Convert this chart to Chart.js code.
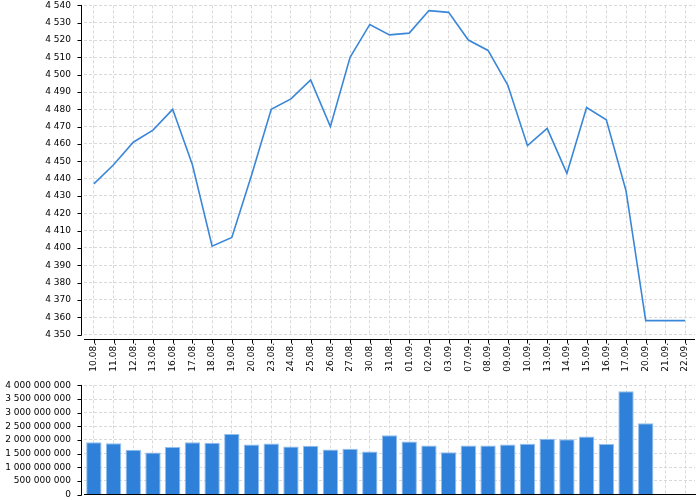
<!DOCTYPE html>
<html>
<head>
<meta charset="utf-8">
<script src="https://cdn.jsdelivr.net/npm/chart.js@4/dist/chart.umd.min.js"></script>
<style>
    html, body { margin: 0; padding: 0; background: #fff; }
    #wrap { position: relative; width: 700px; height: 500px; }
    #priceChart { position: absolute; left: 0; top: 0; }
    #volumeChart { position: absolute; left: 0; top: 380px; }
</style>
</head>
<body>
<div id="wrap">
    <canvas id="priceChart" width="700" height="380"></canvas>
    <canvas id="volumeChart" width="700" height="120"></canvas>
</div>
<script>
const dates = ['10.08.', '11.08.', '12.08.', '13.08.', '16.08.', '17.08.', '18.08.', '19.08.', '20.08.', '23.08.',
    '24.08.', '25.08.', '26.08.', '27.08.', '30.08.', '31.08.', '01.09.', '02.09.', '03.09.', '07.09.',
    '08.09.', '09.09.', '10.09.', '13.09.', '14.09.', '15.09.', '16.09.', '17.09.', '20.09.', '21.09.', '22.09.'];

const closeValues = [4437, 4448, 4461, 4468, 4480, 4448, 4401, 4406, 4442, 4480,
    4486, 4497, 4470, 4510, 4529, 4523, 4524, 4537, 4536, 4520,
    4514, 4494, 4459, 4469, 4443, 4481, 4474, 4433, 4358, 4358, 4358];

// in millions
const volumeMillions = [1920, 1880, 1640, 1540, 1740, 1920, 1900, 2220, 1830, 1870,
    1760, 1790, 1650, 1680, 1580, 2170, 1940, 1800, 1550, 1800,
    1800, 1830, 1860, 2040, 2030, 2130, 1850, 3790, 2610, null, null];

const priceTicks = { min: 4350, max: 4540, step: 10 };
const volumeTicks = { min: 0, max: 4000000000, step: 500000000 };

const volumes = volumeMillions.map(v => v === null ? null : v * 1000000);

const FONT = { family: "'DejaVu Sans', sans-serif", size: 9 };
const GRID_COLOR = '#d9d9d9';
const NONE = 'rgba(0,0,0,0)';

function spaced(v) {
    return Math.round(v).toString().replace(/\B(?=(\d{3})+(?!\d))/g, ' ');
}

// axis lines sit a few pixels away from the plot, as in the original
const offsetAxes = {
    id: 'offsetAxes',
    afterDraw(chart, args, opts) {
        const ctx = chart.ctx;
        const area = chart.chartArea;
        const x = chart.scales.x;
        const y = chart.scales.y;
        ctx.save();
        ctx.strokeStyle = '#000';
        ctx.lineWidth = 1;
        ctx.beginPath();
        const yx = Math.round(area.left - opts.yGap) + 0.5;
        ctx.moveTo(yx, area.top - 0.5);
        ctx.lineTo(yx, area.bottom + 1);
        y.ticks.forEach(t => {
            const p = Math.round(y.getPixelForValue(t.value)) + 0.5;
            ctx.moveTo(yx - 4, p);
            ctx.lineTo(yx, p);
        });
        if (opts.xGap !== undefined) {
            const xy = Math.round(area.bottom + opts.xGap) + 0.5;
            ctx.moveTo(area.left, xy);
            ctx.lineTo(area.right, xy);
            x.ticks.forEach((t, i) => {
                const p = Math.round(x.getPixelForTick(i)) + 0.5;
                ctx.moveTo(p, xy);
                ctx.lineTo(p, xy + 4);
            });
        }
        ctx.stroke();
        ctx.restore();
    }
};

Chart.defaults.font.family = FONT.family;
Chart.defaults.font.size = FONT.size;
Chart.defaults.color = '#000';

new Chart(document.getElementById('priceChart').getContext('2d'), {
    type: 'line',
    data: {
        labels: dates,
        datasets: [{
            data: closeValues,
            borderColor: '#3a87d9',
            borderWidth: 1.6,
            pointRadius: 0,
            tension: 0,
            fill: false
        }]
    },
    options: {
        responsive: false,
        animation: false,
        devicePixelRatio: 1,
        layout: { padding: { top: 5, right: 5, bottom: 0, left: 0 } },
        plugins: {
            legend: { display: false },
            tooltip: { enabled: false },
            offsetAxes: { yGap: 3.3, xGap: 4.5 }
        },
        scales: {
            x: {
                offset: true,
                afterFit: (scale) => { scale.height = 45.5; },
                grid: { color: GRID_COLOR, offset: false, tickLength: 8.5, tickColor: NONE },
                border: { display: false, dash: [3, 2] },
                ticks: { autoSkip: false, minRotation: 90, maxRotation: 90, padding: 0, font: FONT }
            },
            y: {
                min: priceTicks.min,
                max: priceTicks.max,
                afterFit: (scale) => { scale.width = 84; },
                grid: { color: GRID_COLOR, tickLength: 13, tickColor: NONE },
                border: { display: false, dash: [3, 2] },
                ticks: { stepSize: priceTicks.step, autoSkip: false, padding: 0, font: FONT, callback: (v) => spaced(v) }
            }
        }
    },
    plugins: [offsetAxes]
});

new Chart(document.getElementById('volumeChart').getContext('2d'), {
    type: 'bar',
    data: {
        labels: dates,
        datasets: [{
            data: volumes,
            backgroundColor: '#2f80d8',
            borderColor: '#93bfee',
            borderWidth: 1,
            categoryPercentage: 1,
            barPercentage: 0.78
        }]
    },
    options: {
        responsive: false,
        animation: false,
        devicePixelRatio: 1,
        layout: { padding: { top: 5, right: 5, bottom: 0, left: 0 } },
        plugins: {
            legend: { display: false },
            tooltip: { enabled: false },
            offsetAxes: { yGap: 3.3 }
        },
        scales: {
            x: {
                afterFit: (scale) => { scale.height = 5.5; },
                grid: { color: GRID_COLOR, drawTicks: false, offset: false },
                border: { display: true, color: '#000', dash: [3, 2] },
                ticks: { display: false }
            },
            y: {
                min: volumeTicks.min,
                max: volumeTicks.max,
                afterFit: (scale) => { scale.width = 84; },
                grid: { color: GRID_COLOR, tickLength: 13, tickColor: NONE },
                border: { display: false, dash: [3, 2] },
                ticks: { stepSize: volumeTicks.step, autoSkip: false, padding: 0, font: FONT, callback: (v) => spaced(v) }
            }
        }
    },
    plugins: [offsetAxes]
});
</script>
</body>
</html>
